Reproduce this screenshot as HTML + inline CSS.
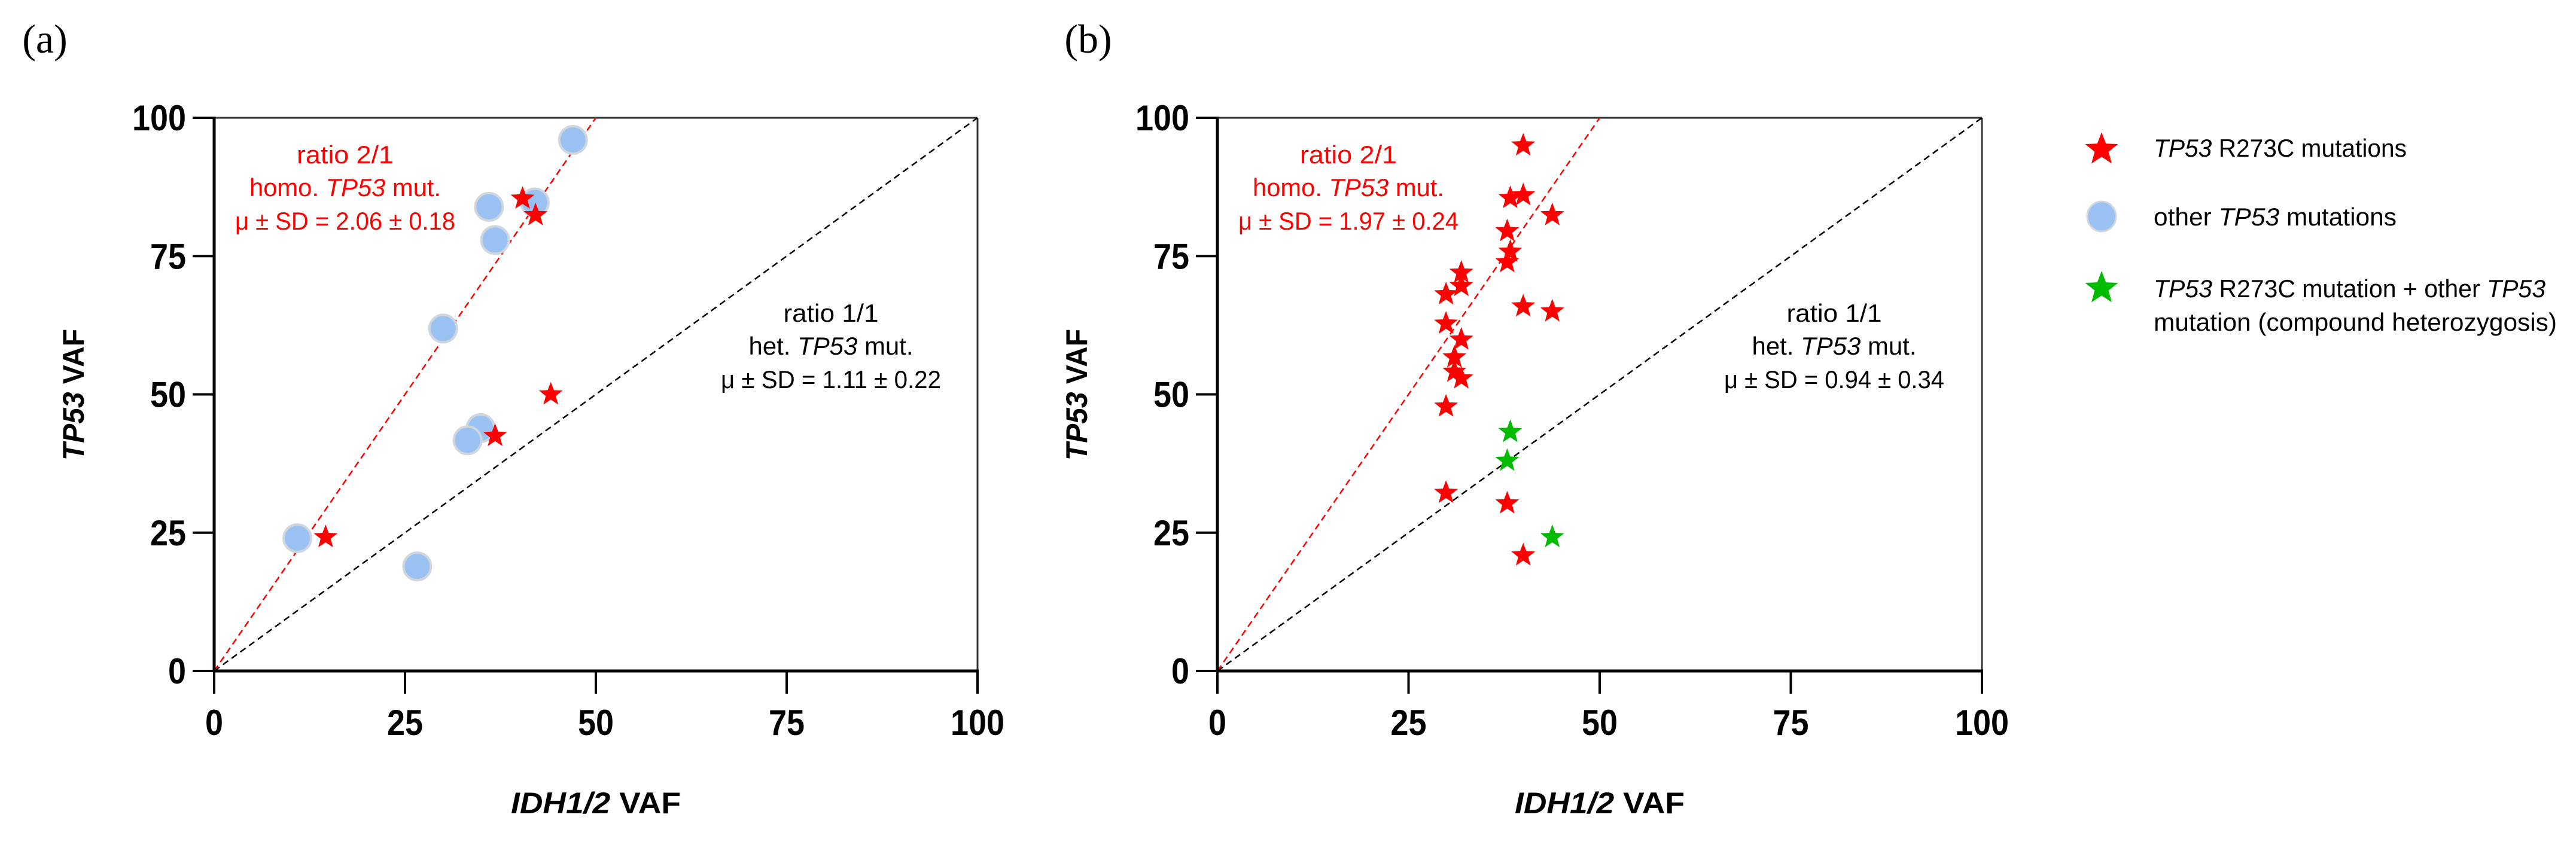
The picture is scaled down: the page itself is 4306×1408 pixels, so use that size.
<!DOCTYPE html>
<html><head><meta charset="utf-8"><style>
html,body{margin:0;padding:0;background:#fff;}
svg{display:block;font-family:"Liberation Sans",sans-serif;}
</style></head><body>
<svg id="fig" width="4306" height="1408" viewBox="0 0 4306 1408" xmlns="http://www.w3.org/2000/svg">
<text x="75" y="88" font-family="Liberation Serif,serif" font-size="68" text-anchor="middle">(a)</text>
<text x="1819" y="88" font-family="Liberation Serif,serif" font-size="68" text-anchor="middle">(b)</text>
<g id="panelA"></g>
<g id="panelB"></g>
<g id="legend"></g>
</svg>
<script>
const ticks = [0, 25, 50, 75, 100];
const tickLabels = ["0", "25", "50", "75", "100"];
const aCircleX = [47, 42, 36, 36.8, 30, 34.9, 33.2, 10.9, 26.6];
const aCircleY = [96, 84.7, 83.9, 77.9, 61.9, 43.9, 41.7, 24, 18.9];
const aStarX = [40.4, 42.1, 44.1, 36.8, 14.6];
const aStarY = [85.4, 82.4, 50, 42.5, 24.2];
const bStarX = [40, 38.3, 40, 43.8, 37.9, 38.3, 37.9, 31.9, 31.9, 29.9, 40, 43.8, 29.9, 31.9, 31, 31, 31.9, 29.9, 29.9, 37.9, 40];
const bStarY = [95, 85.5, 86, 82.4, 79.5, 75.8, 73.9, 72, 69.6, 68.1, 65.9, 65, 62.8, 59.9, 56.7, 54.1, 52.9, 47.8, 32.2, 30.3, 20.9];
const bGreenX = [38.3, 37.9, 43.8];
const bGreenY = [43.2, 38, 24.2];
const aRatio = ["ratio 2/1", "2.06 ± 0.18", "1.11 ± 0.22"];
const bRatio = ["ratio 2/1", "1.97 ± 0.24", "0.94 ± 0.34"];

const NS = "http://www.w3.org/2000/svg";
function mk(tag, attrs, parent) {
  const e = document.createElementNS(NS, tag);
  for (const k in attrs) e.setAttribute(k, attrs[k]);
  parent.appendChild(e);
  return e;
}
function starPts(cx, cy, r) {
  const p = [];
  for (let i = 0; i < 10; i++) {
    const rr = i % 2 ? r * 0.42 : r;
    const a = -Math.PI / 2 + i * Math.PI / 5;
    p.push((cx + rr * Math.cos(a)).toFixed(1) + "," + (cy + rr * Math.sin(a)).toFixed(1));
  }
  return p.join(" ");
}
function multiText(g, x, y, parts, size, fill, len) {
  const t = mk("text", {x: x, y: y, "font-size": size, fill: fill, "text-anchor": "middle", textLength: len, lengthAdjust: "spacingAndGlyphs"}, g);
  parts.forEach(p => {
    const s = mk("tspan", {}, t);
    if (p[1]) s.setAttribute("font-style", "italic");
    s.textContent = p[0];
  });
  return t;
}
function panel(g, X0, X1, circX, circY, starX, starY, greenX, greenY, ratio) {
  const Y0 = 1122, Y1 = 197;
  const sx = v => X0 + (X1 - X0) * v / 100;
  const sy = v => Y0 - (Y0 - Y1) * v / 100;
  const top = mk("line", {x1: sx(0), y1: sy(100), x2: sx(100), y2: sy(100), stroke: "#333", "stroke-width": 3}, g);
  
  
  const rt = mk("line", {x1: sx(100), y1: sy(100), x2: sx(100), y2: sy(0), stroke: "#333", "stroke-width": 3}, g);
  
  
  const ln1 = mk("line", {x1: sx(0), y1: sy(0), x2: sx(100), y2: sy(100), stroke: "#000", "stroke-width": 2.5, "stroke-dasharray": "11 7"}, g);
  
  
  const ln2 = mk("line", {x1: sx(0), y1: sy(0), x2: sx(50), y2: sy(100), stroke: "#f00", "stroke-width": 2.5, "stroke-dasharray": "11 7"}, g);
  
  
  const xa = mk("line", {x1: sx(0) - 2, y1: sy(0), x2: sx(100) + 2, y2: sy(0), stroke: "#000", "stroke-width": 5}, g);
  
  
  const ya = mk("line", {x1: sx(0), y1: sy(0) + 2, x2: sx(0), y2: sy(100) - 2, stroke: "#000", "stroke-width": 5}, g);
  
  
  ticks.forEach((v, i) => {
    const tx = mk("line", {x1: sx(v), y1: sy(0), x2: sx(v), y2: sy(0) + 38, stroke: "#000", "stroke-width": 4}, g);
    
    
    const lx = mk("text", {x: sx(v), y: 1229, "font-size": 60, "font-weight": "bold", "text-anchor": "middle", textLength: tickLabels[i].length * 30, lengthAdjust: "spacingAndGlyphs"}, g);
    lx.textContent = tickLabels[i];
    
    
    const ty = mk("line", {x1: sx(0) - 36, y1: sy(v), x2: sx(0), y2: sy(v), stroke: "#000", "stroke-width": 4}, g);
    
    
    const ly = mk("text", {x: sx(0) - 47, y: sy(v) + 21, "font-size": 60, "font-weight": "bold", "text-anchor": "end", textLength: tickLabels[i].length * 30, lengthAdjust: "spacingAndGlyphs"}, g);
    ly.textContent = tickLabels[i];
    
    
  });
  const xt = multiText(g, sx(50), 1360, [["IDH1/2", 1], [" VAF", 0]], 50, "#000", 284);
  xt.setAttribute("font-weight", "bold");
  
  
  const ytg = mk("g", {transform: "translate(" + (sx(0) - 218) + ",660) rotate(-90)"}, g);
  const yt = multiText(ytg, 0, 0, [["TP53", 1], [" VAF", 0]], 50, "#000", 220);
  yt.setAttribute("font-weight", "bold");
  
  
  const rx = sx(0) + 219, kx = sx(0) + 1031;
  const r1 = multiText(g, rx, 273, [[ratio[0], 0]], 42, "#f00", 162);
  
  
  const r2 = multiText(g, rx, 328, [["homo. ", 0], ["TP53", 1], [" mut.", 0]], 42, "#f00", 320);
  
  
  const r3 = multiText(g, rx, 384, [["μ ± SD = " + ratio[1], 0]], 42, "#f00", 368);
  
  
  const k1 = multiText(g, kx, 538, [["ratio 1/1", 0]], 42, "#000", 159);
  
  
  const k2 = multiText(g, kx, 593, [["het. ", 0], ["TP53", 1], [" mut.", 0]], 42, "#000", 275);
  
  
  const k3 = multiText(g, kx, 649, [["μ ± SD = " + ratio[2], 0]], 42, "#000", 368);
  
  
  circX.forEach((v, i) => {
    const c = mk("circle", {cx: sx(v), cy: sy(circY[i]), r: 23, fill: "#99c2f2", stroke: "#cfd6de", "stroke-width": 4}, g);
    
    
  });
  starX.forEach((v, i) => {
    const s = mk("polygon", {points: starPts(sx(v), sy(starY[i]), 21), fill: "#f00"}, g);
    
    
  });
  greenX.forEach((v, i) => {
    const s = mk("polygon", {points: starPts(sx(v), sy(greenY[i]), 21), fill: "#0b0"}, g);
    
    
  });
}
panel(document.getElementById("panelA"), 358, 1634, aCircleX, aCircleY, aStarX, aStarY, [], [], aRatio);
panel(document.getElementById("panelB"), 2035, 3313, [], [], bStarX, bStarY, bGreenX, bGreenY, bRatio);

const L = document.getElementById("legend");
const ls1 = mk("polygon", {points: starPts(3513, 250, 29), fill: "#f00"}, L);


const lc = mk("ellipse", {cx: 3513, cy: 362, rx: 24, ry: 25, fill: "#99c2f2", stroke: "#cfd6de", "stroke-width": 3}, L);


const ls2 = mk("polygon", {points: starPts(3513, 482, 29), fill: "#0b0"}, L);


function legText(y, parts, len, name) {
  const t = mk("text", {x: 3600, y: y, "font-size": 42, textLength: len, lengthAdjust: "spacingAndGlyphs"}, L);
  parts.forEach(p => { const s = mk("tspan", {}, t); if (p[1]) s.setAttribute("font-style", "italic"); s.textContent = p[0]; });
  
  
}
legText(262, [["TP53", 1], [" R273C mutations", 0]], 423, "legend-entry-r273c");
legText(377, [["other ", 0], ["TP53", 1], [" mutations", 0]], 406, "legend-entry-other");
legText(497, [["TP53", 1], [" R273C mutation + other ", 0], ["TP53", 1]], 655, "legend-entry-compound");
legText(553, [["mutation (compound heterozygosis)", 0]], 674, "legend-entry-compound-line2");
</script>
</body></html>
